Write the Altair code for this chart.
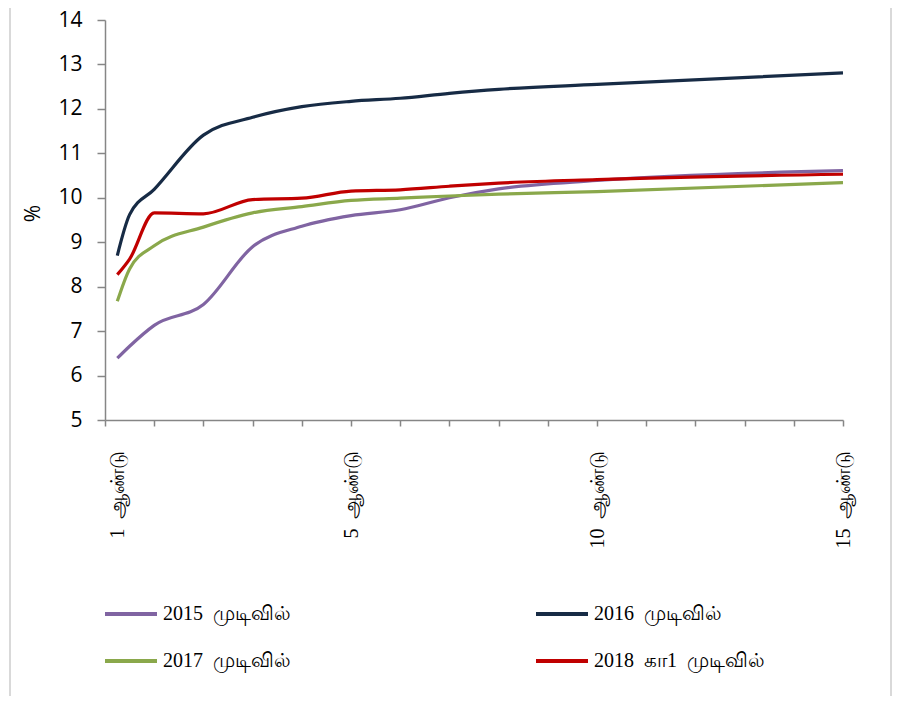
import altair as alt
import pandas as pd

# Maturity (years) of each point on the curves
tenors = [0.25, 0.5, 1, 2, 3, 4, 5, 6, 7, 8, 10, 15]
y2015 = [6.39, 6.66, 7.13, 7.60, 8.90, 9.36, 9.60, 9.73, 10.00, 10.20, 10.39, 10.61]
y2016 = [8.70, 9.62, 10.19, 11.41, 11.81, 12.05, 12.17, 12.24, 12.35, 12.44, 12.55, 12.81]
y2017 = [7.67, 8.40, 8.92, 9.34, 9.66, 9.80, 9.94, 9.99, 10.04, 10.08, 10.14, 10.34]
y2018 = [8.27, 8.62, 9.66, 9.64, 9.96, 9.99, 10.15, 10.18, 10.26, 10.33, 10.41, 10.53]
series = ["2015\u00a0 முடிவில்", "2016\u00a0 முடிவில்", "2017\u00a0 முடிவில்", "2018\u00a0 கா1\u00a0 முடிவில்"]
colors = ["#8064A2", "#172B45", "#8AA84B", "#C00000"]

tick_values = list(range(0, 16))
label_pos = [0.25, 5, 10, 15]
label_text = ["1\u00a0 ஆண்டு", "5\u00a0 ஆண்டு", "10\u00a0 ஆண்டு", "15\u00a0 ஆண்டு"]

rows = []
for name, vals in zip(series, [y2015, y2016, y2017, y2018]):
    for t, v in zip(tenors, vals):
        rows.append({"tenor": t, "yield": v, "series": name})
df = pd.DataFrame(rows)

xscale = alt.Scale(domain=[0, 15], nice=False, zero=False)
yscale = alt.Scale(domain=[5, 14], nice=False, zero=False)

lines = alt.Chart(df).mark_line(strokeWidth=3.2, interpolate="monotone").encode(
    x=alt.X("tenor:Q", scale=xscale,
            axis=alt.Axis(orient="bottom", values=tick_values, labels=False, ticks=True,
                          tickSize=6, grid=False, title=None)),
    y=alt.Y("yield:Q", scale=yscale,
            axis=alt.Axis(values=list(range(5, 15)), tickSize=8, labelPadding=15,
                          grid=False, title="%", titleX=-72, titleY=193, titleAngle=270,
                          titleAlign="center", titleBaseline="middle",
                          titleFont="Open Sans", titleFontSize=21, titleFontWeight="normal",
                          labelFont="Open Sans", labelFontSize=21)),
    color=alt.Color("series:N", scale=alt.Scale(domain=series, range=colors),
                    legend=alt.Legend(title=None, orient="none", legendX=-2, legendY=566,
                                      columns=2, direction="horizontal",
                                      columnPadding=237, rowPadding=9,
                                      symbolType="stroke", symbolSize=2704,
                                      symbolStrokeWidth=4, labelFont="Liberation Serif",
                                      labelFontSize=20, labelColor="#000000",
                                      labelLimit=400, labelOffset=4)),
)

expr = "''"
for p, t in reversed(list(zip(label_pos, label_text))):
    expr = f"datum.value == {p} ? '{t}' : ({expr})"

lab_df = pd.DataFrame({"t": label_pos, "txt": label_text})
labels_layer = alt.Chart(lab_df).mark_point(opacity=0).encode(
    x=alt.X("t:Q", scale=xscale,
            axis=alt.Axis(orient="bottom", values=label_pos, labelExpr=expr, ticks=False,
                          tickSize=0, domain=False, grid=False, title=None,
                          labelAngle=270, labelAlign="right", labelBaseline="middle",
                          labelPadding=30, labelFont="Liberation Serif", labelFontSize=20,
                          labelColor="#000000")),
)

frame_df = pd.DataFrame({"a": [0]})
frame_left = alt.Chart(frame_df).mark_rule(color="#d9d9d9", strokeWidth=2).encode(
    x=alt.value(-95), y=alt.value(-20), y2=alt.value(700))
frame_right = alt.Chart(frame_df).mark_rule(color="#d9d9d9", strokeWidth=2).encode(
    x=alt.value(786), y=alt.value(-20), y2=alt.value(700))

chart = alt.layer(frame_left, frame_right, lines, labels_layer).resolve_axis(
    x="independent").resolve_scale(x="shared").properties(
    width=738, height=400,
    autosize=alt.AutoSizeParams(type="none"),
    padding={"left": 97, "top": 12, "right": 50, "bottom": 276},
).configure_view(stroke=None).configure_axis(
    domainColor="#868686", tickColor="#868686", domainWidth=1.5, tickWidth=1.5,
    labelColor="#000000",
)

chart.save("out.html", embed_options={"renderer": "svg", "actions": False})
